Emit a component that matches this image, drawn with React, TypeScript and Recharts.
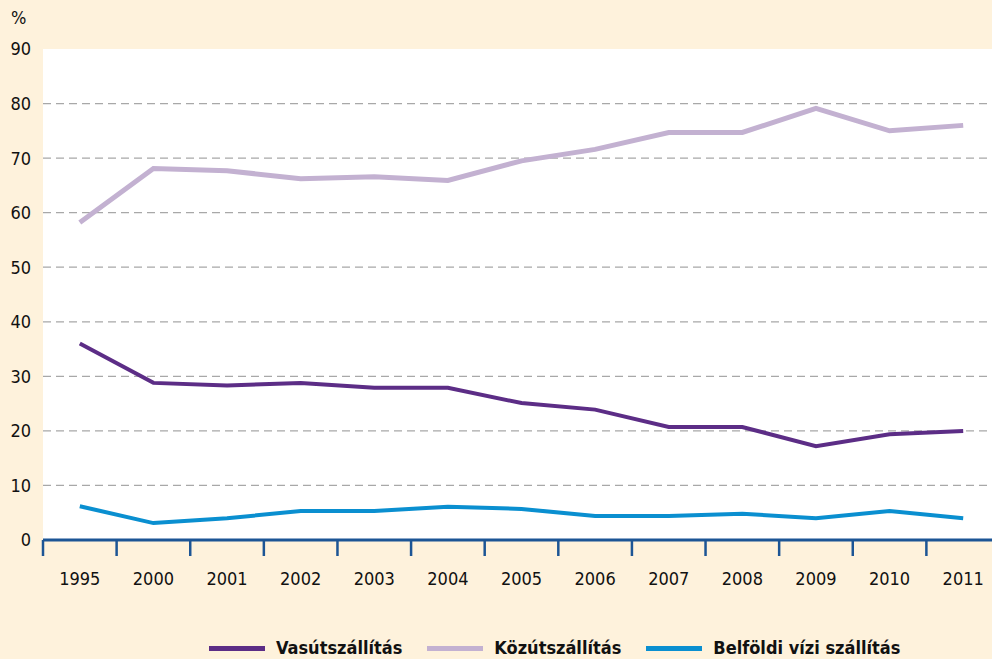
import { LineChart, Line, XAxis, YAxis, CartesianGrid } from "recharts";

const years = ["1995", "2000", "2001", "2002", "2003", "2004", "2005", "2006", "2007", "2008", "2009", "2010", "2011"];
const vasut = [36.0, 28.8, 28.3, 28.8, 27.9, 27.9, 25.1, 23.9, 20.7, 20.7, 17.2, 19.4, 20.0];
const kozut = [58.2, 68.1, 67.7, 66.2, 66.6, 65.9, 69.5, 71.6, 74.7, 74.7, 79.1, 75.0, 76.0];
const vizi = [6.2, 3.1, 4.0, 5.3, 5.3, 6.1, 5.7, 4.4, 4.4, 4.8, 4.0, 5.3, 4.0];
const yTicks = [0, 10, 20, 30, 40, 50, 60, 70, 80, 90];

const series = [
  { key: "vasut", name: "Vasútszállítás", color: "#5C2D86", width: 4 },
  { key: "kozut", name: "Közútszállítás", color: "#C3B1D1", width: 5 },
  { key: "vizi", name: "Belföldi vízi szállítás", color: "#0A8FD0", width: 4 },
];

const data = years.map((year, i) => ({
  year,
  vasut: vasut[i],
  kozut: kozut[i],
  vizi: vizi[i],
}));

const FONT = '"DejaVu Sans Condensed", "Liberation Sans Narrow", Arial, sans-serif';
const CHART_W = 1000;
const CHART_H = 659;
const Y_AXIS_W = 43;
const BAND = (CHART_W - Y_AXIS_W) / years.length;
const AXIS_BLUE = "#1C5595";

// year label in the middle of its band, tick mark on the band's left edge
function YearTick(props: any) {
  const { x, y, payload } = props;
  const edge = x - BAND / 2;
  return (
    <g>
      <line x1={edge} y1={y} x2={edge} y2={y + 16} stroke={AXIS_BLUE} strokeWidth={2.5} />
      <text x={x} y={y + 45} textAnchor="middle" fontFamily={FONT} fontSize={18} fill="#111">
        {payload.value}
      </text>
    </g>
  );
}

export default function App() {
  return (
    <div
      style={{
        position: "absolute",
        left: 0,
        top: 0,
        width: 992,
        height: CHART_H,
        overflow: "hidden",
        background: "#FEF2DC",
        fontFamily: FONT,
      }}
    >
      <span style={{ position: "absolute", left: 11, top: 7, fontSize: 18, color: "#111" }}>%</span>
      <LineChart
        width={CHART_W}
        height={CHART_H}
        data={data}
        margin={{ top: 49, right: 0, bottom: 59, left: 0 }}
      >
        <CartesianGrid
          vertical={false}
          horizontalValues={yTicks.slice(1, -1)}
          fill="#FFFFFF"
          stroke="#A8A8A8"
          strokeDasharray="8 5"
          strokeWidth={1.2}
        />
        <XAxis
          dataKey="year"
          interval={0}
          padding={{ left: BAND / 2, right: BAND / 2 }}
          height={60}
          tickLine={false}
          tickSize={0}
          tickMargin={0}
          axisLine={{ stroke: AXIS_BLUE, strokeWidth: 3 }}
          tick={<YearTick />}
        />
        <YAxis
          width={Y_AXIS_W}
          domain={[0, 90]}
          ticks={yTicks}
          interval={0}
          axisLine={false}
          tickLine={false}
          tickSize={0}
          tickMargin={12}
          tick={{ fontFamily: FONT, fontSize: 18, fill: "#111" }}
        />
        {series.map((s) => (
          <Line
            key={s.key}
            dataKey={s.key}
            name={s.name}
            type="linear"
            stroke={s.color}
            strokeWidth={s.width}
            dot={false}
            activeDot={false}
            isAnimationActive={false}
          />
        ))}
      </LineChart>
      <div
        style={{
          position: "absolute",
          left: 209,
          top: 637,
          display: "flex",
          alignItems: "center",
          fontWeight: "bold",
          fontSize: 18,
          lineHeight: "22px",
          color: "#111",
        }}
      >
        {series.map((s) => (
          <div key={s.key} style={{ display: "flex", alignItems: "center", marginRight: 25 }}>
            <span style={{ display: "inline-block", width: 56, height: 5, background: s.color, marginRight: 11 }} />
            <span>{s.name}</span>
          </div>
        ))}
      </div>
    </div>
  );
}
